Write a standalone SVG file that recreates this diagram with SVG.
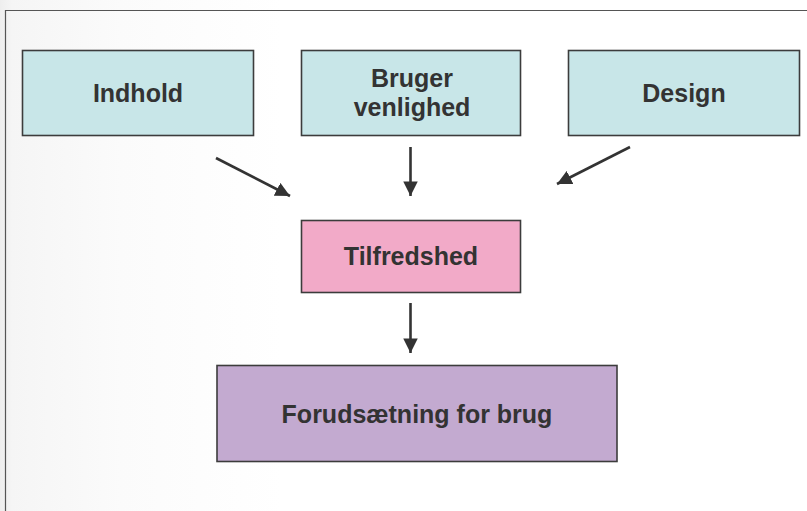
<svg xmlns="http://www.w3.org/2000/svg" width="807" height="511" viewBox="0 0 807 511">
<defs>
<style>
.box{stroke:#3c3c3c;stroke-width:1.6}
.lbl{font-family:"Liberation Sans",Arial,sans-serif;font-weight:bold;font-size:25px;fill:#333333;text-anchor:middle}
.con{stroke:#333333;stroke-width:2.6;fill:none;marker-end:url(#ah)}
</style>
<marker id="ah" viewBox="0 0 10 10" refX="10" refY="5" markerWidth="5.6" markerHeight="5.8" markerUnits="strokeWidth" orient="auto">
<path d="M0,0 L10,5 L0,10 z" fill="#333333"/>
</marker>
<linearGradient id="bg" x1="0" y1="0" x2="1" y2="0">
<stop offset="0" stop-color="#eeeeee"/>
<stop offset="0.015" stop-color="#f5f5f5"/>
<stop offset="0.15" stop-color="#fbfbfb"/>
<stop offset="0.35" stop-color="#ffffff"/>
</linearGradient>
</defs>
<rect x="0" y="0" width="807" height="511" fill="#ffffff"/>
<rect x="0" y="0" width="807" height="511" fill="url(#bg)"/>
<path d="M5.5,511 L5.5,10.5 L807,10.5" fill="none" stroke="#555555" stroke-width="1.2"/>
<g id="connectors">
<line class="con" x1="216" y1="158" x2="290" y2="196"/>
<line class="con" x1="410.5" y1="147" x2="410.5" y2="196"/>
<line class="con" x1="630" y1="147" x2="557" y2="184"/>
<line class="con" x1="410.5" y1="303" x2="410.5" y2="353"/>
</g>
<g id="indhold">
<rect class="box" x="22.5" y="50.5" width="231" height="85" fill="#c8e6e8"/>
<text class="lbl" x="138" y="102">Indhold</text>
</g>
<g id="brugervenlighed">
<rect class="box" x="301.5" y="50.5" width="219" height="85" fill="#c8e6e8"/>
<text class="lbl" x="412" y="87">Bruger</text>
<text class="lbl" x="412" y="116">venlighed</text>
</g>
<g id="design">
<rect class="box" x="568.5" y="50.5" width="231" height="85" fill="#c8e6e8"/>
<text class="lbl" x="684" y="102">Design</text>
</g>
<g id="tilfredshed">
<rect class="box" x="301.5" y="220.5" width="219" height="72" fill="#f2aac8"/>
<text class="lbl" x="411" y="265">Tilfredshed</text>
</g>
<g id="forudsaetning">
<rect class="box" x="217" y="365.5" width="400" height="96" fill="#c3aad0"/>
<text class="lbl" x="417" y="423">Forudsætning for brug</text>
</g>
</svg>
